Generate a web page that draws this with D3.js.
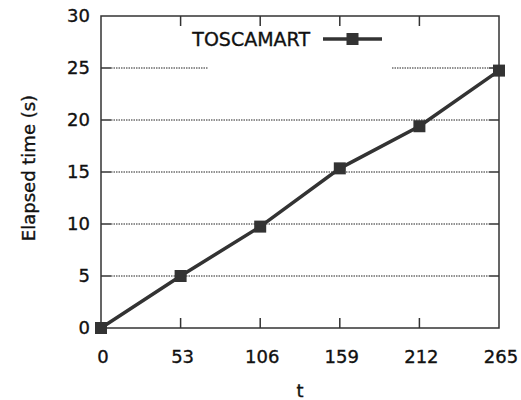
<!DOCTYPE html>
<html>
<head>
<meta charset="utf-8">
<script src="https://cdn.jsdelivr.net/npm/d3@7"></script>
<style>
  body { margin: 0; background: #fff; }
  text { font-family: "DejaVu Sans", Verdana, sans-serif; fill: #111; stroke: #111; stroke-width: 0.35px; }
</style>
</head>
<body>
<div id="chart"></div>
<script>
// values
var tValues = [0, 53, 106, 159, 212, 265];
var elapsed = [0, 5.0, 9.75, 15.35, 19.4, 24.75];
var yTicks = [0, 5, 10, 15, 20, 25, 30];
var seriesName = "TOSCAMART";

var chartWidth = 521, chartHeight = 400,
    margin = {top: 16, right: 22, bottom: 72, left: 101},
    width = chartWidth - margin.left - margin.right,
    height = chartHeight - margin.top - margin.bottom;

var svg = d3.select("#chart").append("svg")
    .attr("width", chartWidth)
    .attr("height", chartHeight);

var g = svg.append("g")
    .attr("transform", "translate(" + margin.left + "," + margin.top + ")");

var x = d3.scaleLinear().domain([0, 265]).range([0, width]);
var y = d3.scaleLinear().domain([0, 30]).range([height, 0]);

var tickLen = 10;

// dotted grid, broken at 25 where the legend sits
var legendGapFrom = 208 - margin.left, legendGapTo = 392 - margin.left;
yTicks.filter(function(d){ return d > 0 && d < 30; }).forEach(function(d){
  var segs = d == 25 ? [[tickLen, legendGapFrom], [legendGapTo, width - tickLen]]
                     : [[tickLen, width - tickLen]];
  segs.forEach(function(s){
    g.append("line")
      .attr("x1", s[0]).attr("x2", s[1])
      .attr("y1", y(d)).attr("y2", y(d))
      .attr("stroke", "#222")
      .attr("stroke-width", 1)
      .attr("stroke-dasharray", "1.5,1");
  });
});

// ticks: inward, mirrored on the opposite side
var xInner = tValues.filter(function(d){ return d > 0 && d < 265; });
xInner.forEach(function(d){
  g.append("line").attr("x1", x(d)).attr("x2", x(d))
    .attr("y1", height).attr("y2", height - tickLen)
    .attr("stroke", "#333").attr("stroke-width", 1.5);
  g.append("line").attr("x1", x(d)).attr("x2", x(d))
    .attr("y1", 0).attr("y2", tickLen)
    .attr("stroke", "#333").attr("stroke-width", 1.5);
});
yTicks.filter(function(d){ return d > 0 && d < 30; }).forEach(function(d){
  g.append("line").attr("x1", 0).attr("x2", tickLen)
    .attr("y1", y(d)).attr("y2", y(d))
    .attr("stroke", "#333").attr("stroke-width", 1.5);
  g.append("line").attr("x1", width).attr("x2", width - tickLen)
    .attr("y1", y(d)).attr("y2", y(d))
    .attr("stroke", "#333").attr("stroke-width", 1.5);
});

// frame
g.append("rect")
  .attr("x", 0).attr("y", 0)
  .attr("width", width).attr("height", height)
  .attr("fill", "none")
  .attr("stroke", "#333")
  .attr("stroke-width", 1.5);

// tick labels
g.selectAll(".xlabel")
  .data(tValues)
  .enter().append("text")
    .attr("class", "xlabel")
    .attr("x", function(d){ return x(d) + 2; })
    .attr("y", height + 35)
    .attr("text-anchor", "middle")
    .style("font-size", "18px")
    .text(function(d){ return d; });

g.selectAll(".ylabel")
  .data(yTicks)
  .enter().append("text")
    .attr("class", "ylabel")
    .attr("x", -11)
    .attr("y", function(d){ return y(d); })
    .attr("dy", "0.36em")
    .attr("text-anchor", "end")
    .style("font-size", "18px")
    .text(function(d){ return d; });

// axis titles
svg.append("text")
  .attr("transform", "translate(35,168) rotate(-90)")
  .attr("text-anchor", "middle")
  .style("font-size", "18px")
  .text("Elapsed time (s)");

svg.append("text")
  .attr("x", margin.left + width / 2)
  .attr("y", 397)
  .attr("text-anchor", "middle")
  .style("font-size", "18px")
  .text("t");

// series
var pts = tValues.map(function(d, i){ return [d, elapsed[i]]; });
var line = d3.line()
  .x(function(d){ return x(d[0]); })
  .y(function(d){ return y(d[1]); });

g.append("path")
  .datum(pts)
  .attr("d", line)
  .attr("fill", "none")
  .attr("stroke", "#333")
  .attr("stroke-width", 3.5);

var ms = 12;
g.selectAll(".marker")
  .data(pts)
  .enter().append("rect")
    .attr("class", "marker")
    .attr("x", function(d){ return x(d[0]) - ms / 2; })
    .attr("y", function(d){ return y(d[1]) - ms / 2; })
    .attr("width", ms).attr("height", ms)
    .attr("fill", "#333");

// legend
var lg = svg.append("g").attr("transform", "translate(310,39)");
lg.append("text")
  .attr("x", 0).attr("y", 0)
  .attr("dy", "0.36em")
  .attr("text-anchor", "end")
  .style("font-size", "19px")
  .text(seriesName);
lg.append("line")
  .attr("x1", 13).attr("x2", 72)
  .attr("y1", 0).attr("y2", 0)
  .attr("stroke", "#333").attr("stroke-width", 3.5);
lg.append("rect")
  .attr("x", 42.5 - ms / 2).attr("y", -ms / 2)
  .attr("width", ms).attr("height", ms)
  .attr("fill", "#333");
</script>
</body>
</html>
